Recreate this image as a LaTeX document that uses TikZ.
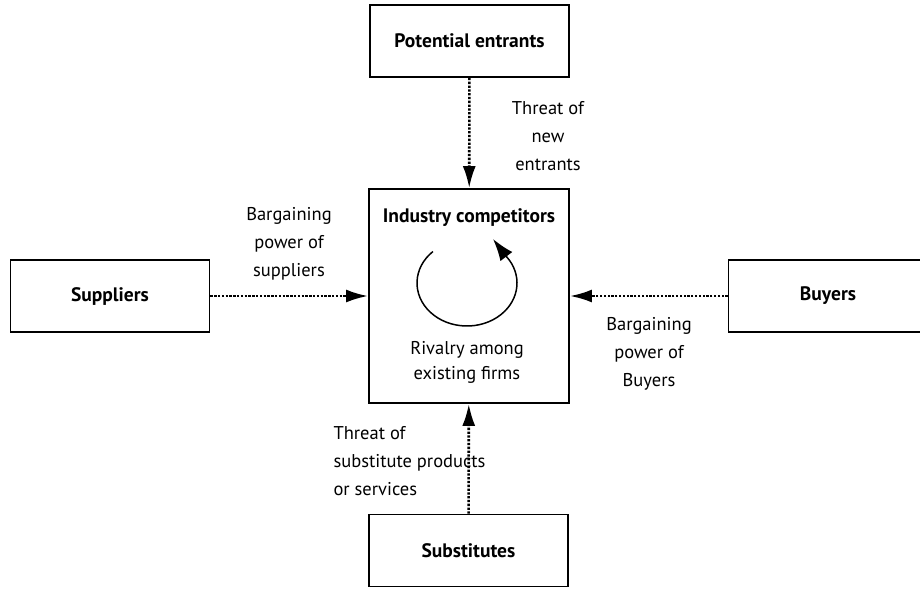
\documentclass[tikz,border=0pt]{standalone}
\usepackage{fontspec}
\setmainfont{PT Sans}
\usetikzlibrary{arrows.meta,positioning,calc}

\begin{document}
\begin{tikzpicture}[x=1pt,y=-1pt,
    forcebox/.style={draw, line width=1.8pt, inner sep=0pt, minimum width=199pt, minimum height=72pt,
      font=\bfseries\fontsize{19.5}{22}\selectfont},
    pressure/.style={line width=2.6pt, dash pattern=on 2.3pt off 1.5pt, -{Latex[length=22pt,width=13pt]}},
    note/.style={align=center, font=\fontsize{18.5}{28}\selectfont}]
    \clip (0,0) rectangle (920,592);
    \fill[white] (0,0) rectangle (920,592);
    % the five forces
    \node[forcebox] (entrants) at (469.5,41) {Potential entrants};
    \node[forcebox, minimum width=200pt, minimum height=214pt] (industry) at (469,296) {};
    \node[forcebox] (suppliers) at (110,296) {Suppliers};
    \node[forcebox] (buyers) at (828,296) {Buyers};
    \node[forcebox] (substitutes) at (468.5,550.5) {Substitutes};
    % inside the industry box
    \node[font=\bfseries\fontsize{19.5}{22}\selectfont] (title) at (469,218) {Industry competitors};
    \node[note, font=\fontsize{18.5}{25}\selectfont] (rivalry) at (467,362) {Rivalry among\\existing firms};
    \coordinate (ring) at (467,283);
    \draw[line width=1.5pt, -{Latex[length=22pt,width=15pt]}]
      ($(ring)+(133:50pt and 43pt)$) arc[start angle=133, end angle=398, x radius=50pt, y radius=43pt]
      -- ($(ring)+(26,-44)$);
    % pressures
    \draw[pressure] (entrants) -- (industry);
    \draw[pressure] (suppliers) -- (industry);
    \draw[pressure] (buyers) -- (industry);
    \draw[pressure] (substitutes) -- (industry);
    % labels
    \node[note] (newlbl) at (548,136) {Threat of\\new\\entrants};
    \node[note] (suplbl) at (289,244) {Bargaining\\power of\\suppliers};
    \node[note] (buylbl) at (649,354) {Bargaining\\power of\\Buyers};
    \node[note, align=left, anchor=west] (sublbl) at (330,461) {Threat of\\substitute products\\or services};
\end{tikzpicture}
\end{document}
